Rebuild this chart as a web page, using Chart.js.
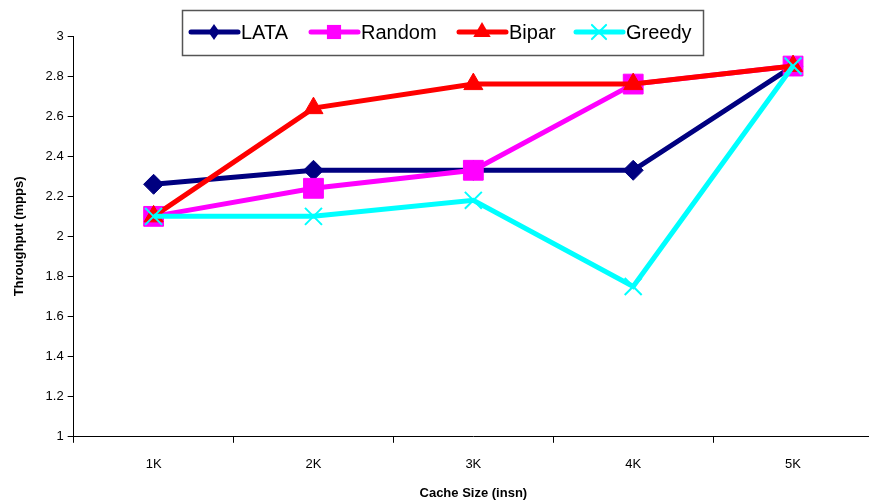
<!DOCTYPE html>
<html>
<head>
<meta charset="utf-8">
<script src="https://cdn.jsdelivr.net/npm/chart.js@4/dist/chart.umd.min.js"></script>
<style>
  html, body { margin: 0; padding: 0; background: #fff; overflow: hidden; }
  #wrap { width: 900px; height: 504px; position: relative; }
  #c { display: block; }
</style>
</head>
<body>
<div id="wrap"><canvas id="c" width="888" height="504"></canvas></div>
<script>
// Cache size categories and throughput (mpps) per scheme
const cacheSizes = ['1K', '2K', '3K', '4K', '5K'];
const lataValues   = [2.26, 2.33, 2.33, 2.33, 2.85];
const randomValues = [2.10, 2.24, 2.33, 2.76, 2.85];
const biparValues  = [2.10, 2.64, 2.76, 2.76, 2.85];
const greedyValues = [2.10, 2.10, 2.18, 1.75, 2.85];

const FONT = '"Liberation Sans", Arial, sans-serif';

function series(label, data, color, style, radius, order, extra) {
  return Object.assign({
    label, data,
    borderColor: color,
    backgroundColor: color,
    borderWidth: 5,
    pointStyle: style,
    pointRadius: radius,
    pointHoverRadius: radius,
    pointBackgroundColor: color,
    pointBorderColor: color,
    pointBorderWidth: 1,
    tension: 0,
    order
  }, extra || {});
}

// Marker glyphs for the boxed legend
function marker(ctx, style, x, y, r, color) {
  ctx.save();
  ctx.fillStyle = color; ctx.strokeStyle = color;
  ctx.beginPath();
  if (style === 'rectRot') {
    ctx.moveTo(x, y - r); ctx.lineTo(x + r * 0.7, y); ctx.lineTo(x, y + r); ctx.lineTo(x - r * 0.7, y);
    ctx.closePath(); ctx.fill();
  } else if (style === 'rect') {
    const s = r * Math.SQRT1_2;
    ctx.rect(x - s, y - s, 2 * s, 2 * s); ctx.fill();
  } else if (style === 'triangle') {
    ctx.moveTo(x, y - r); ctx.lineTo(x + r * 0.87, y + r * 0.5); ctx.lineTo(x - r * 0.87, y + r * 0.5);
    ctx.closePath(); ctx.fill();
  } else if (style === 'crossRot') {
    const s = r * Math.SQRT1_2;
    ctx.lineWidth = 2;
    ctx.moveTo(x - s, y - s); ctx.lineTo(x + s, y + s);
    ctx.moveTo(x + s, y - s); ctx.lineTo(x - s, y + s);
    ctx.stroke();
  }
  ctx.restore();
}

const legendMarkerSize = { rectRot: 8, rect: 10, triangle: 10, crossRot: 10 };

const boxLegend = {
  id: 'boxLegend',
  afterDraw(chart) {
    const ctx = chart.ctx;
    const bx = 182, by = 10, bw = 521, bh = 45;
    ctx.save();
    ctx.fillStyle = '#fff';
    ctx.fillRect(bx, by, bw, bh);
    ctx.strokeStyle = '#555';
    ctx.lineWidth = 1.5;
    ctx.strokeRect(bx + 0.5, by + 0.5, bw, bh);
    const starts = [189, 309, 457, 574];
    const cy = by + 22;
    ctx.font = '20px ' + FONT;
    ctx.textBaseline = 'middle';
    chart.data.datasets.forEach((ds, i) => {
      const x0 = starts[i];
      ctx.strokeStyle = ds.borderColor;
      ctx.lineWidth = 5;
      ctx.lineCap = 'round';
      ctx.beginPath(); ctx.moveTo(x0 + 2, cy); ctx.lineTo(x0 + 49, cy); ctx.stroke();
      marker(ctx, ds.pointStyle, x0 + 25, cy, legendMarkerSize[ds.pointStyle], ds.borderColor);
      ctx.fillStyle = '#000';
      ctx.fillText(ds.label, x0 + 52, cy + 1);
    });
    ctx.restore();
  }
};

new Chart(document.getElementById('c'), {
  type: 'line',
  data: {
    labels: cacheSizes,
    datasets: [
      series('LATA', lataValues, '#000080', 'rectRot', 10, 3),
      series('Random', randomValues, '#FF00FF', 'rect', 14, 2),
      series('Bipar', biparValues, '#FF0000', 'triangle', 11, 1),
      series('Greedy', greedyValues, '#00FFFF', 'crossRot', 12, 0, { pointBorderWidth: 2 })
    ]
  },
  options: {
    responsive: false,
    animation: false,
    devicePixelRatio: 1,
    layout: { padding: { top: 36, right: 0, left: 12, bottom: 3 } },
    plugins: { legend: { display: false }, tooltip: { enabled: false } },
    scales: {
      x: {
        offset: true,
        grid: { drawOnChartArea: false, drawTicks: true, tickLength: 6, color: '#000', offset: true },
        border: { color: '#000', width: 1 },
        ticks: { color: '#000', font: { family: FONT, size: 13 }, padding: 13.5 },
        title: { display: true, text: 'Cache Size (insn)', color: '#000',
                 font: { family: FONT, size: 13, weight: 'bold' }, padding: { top: 0, bottom: 0 } }
      },
      y: {
        min: 1, max: 3,
        grid: { drawOnChartArea: false, drawTicks: true, tickLength: 6, color: '#000' },
        border: { color: '#000', width: 1 },
        ticks: { stepSize: 0.2, color: '#000', font: { family: FONT, size: 13 }, padding: 4,
                 callback: v => String(+v.toFixed(1)) },
        title: { display: true, text: 'Throughput (mpps)', color: '#000',
                 font: { family: FONT, size: 13, weight: 'bold' }, padding: { top: 0, bottom: 14 } }
      }
    }
  },
  plugins: [boxLegend]
});
</script>
</body>
</html>
